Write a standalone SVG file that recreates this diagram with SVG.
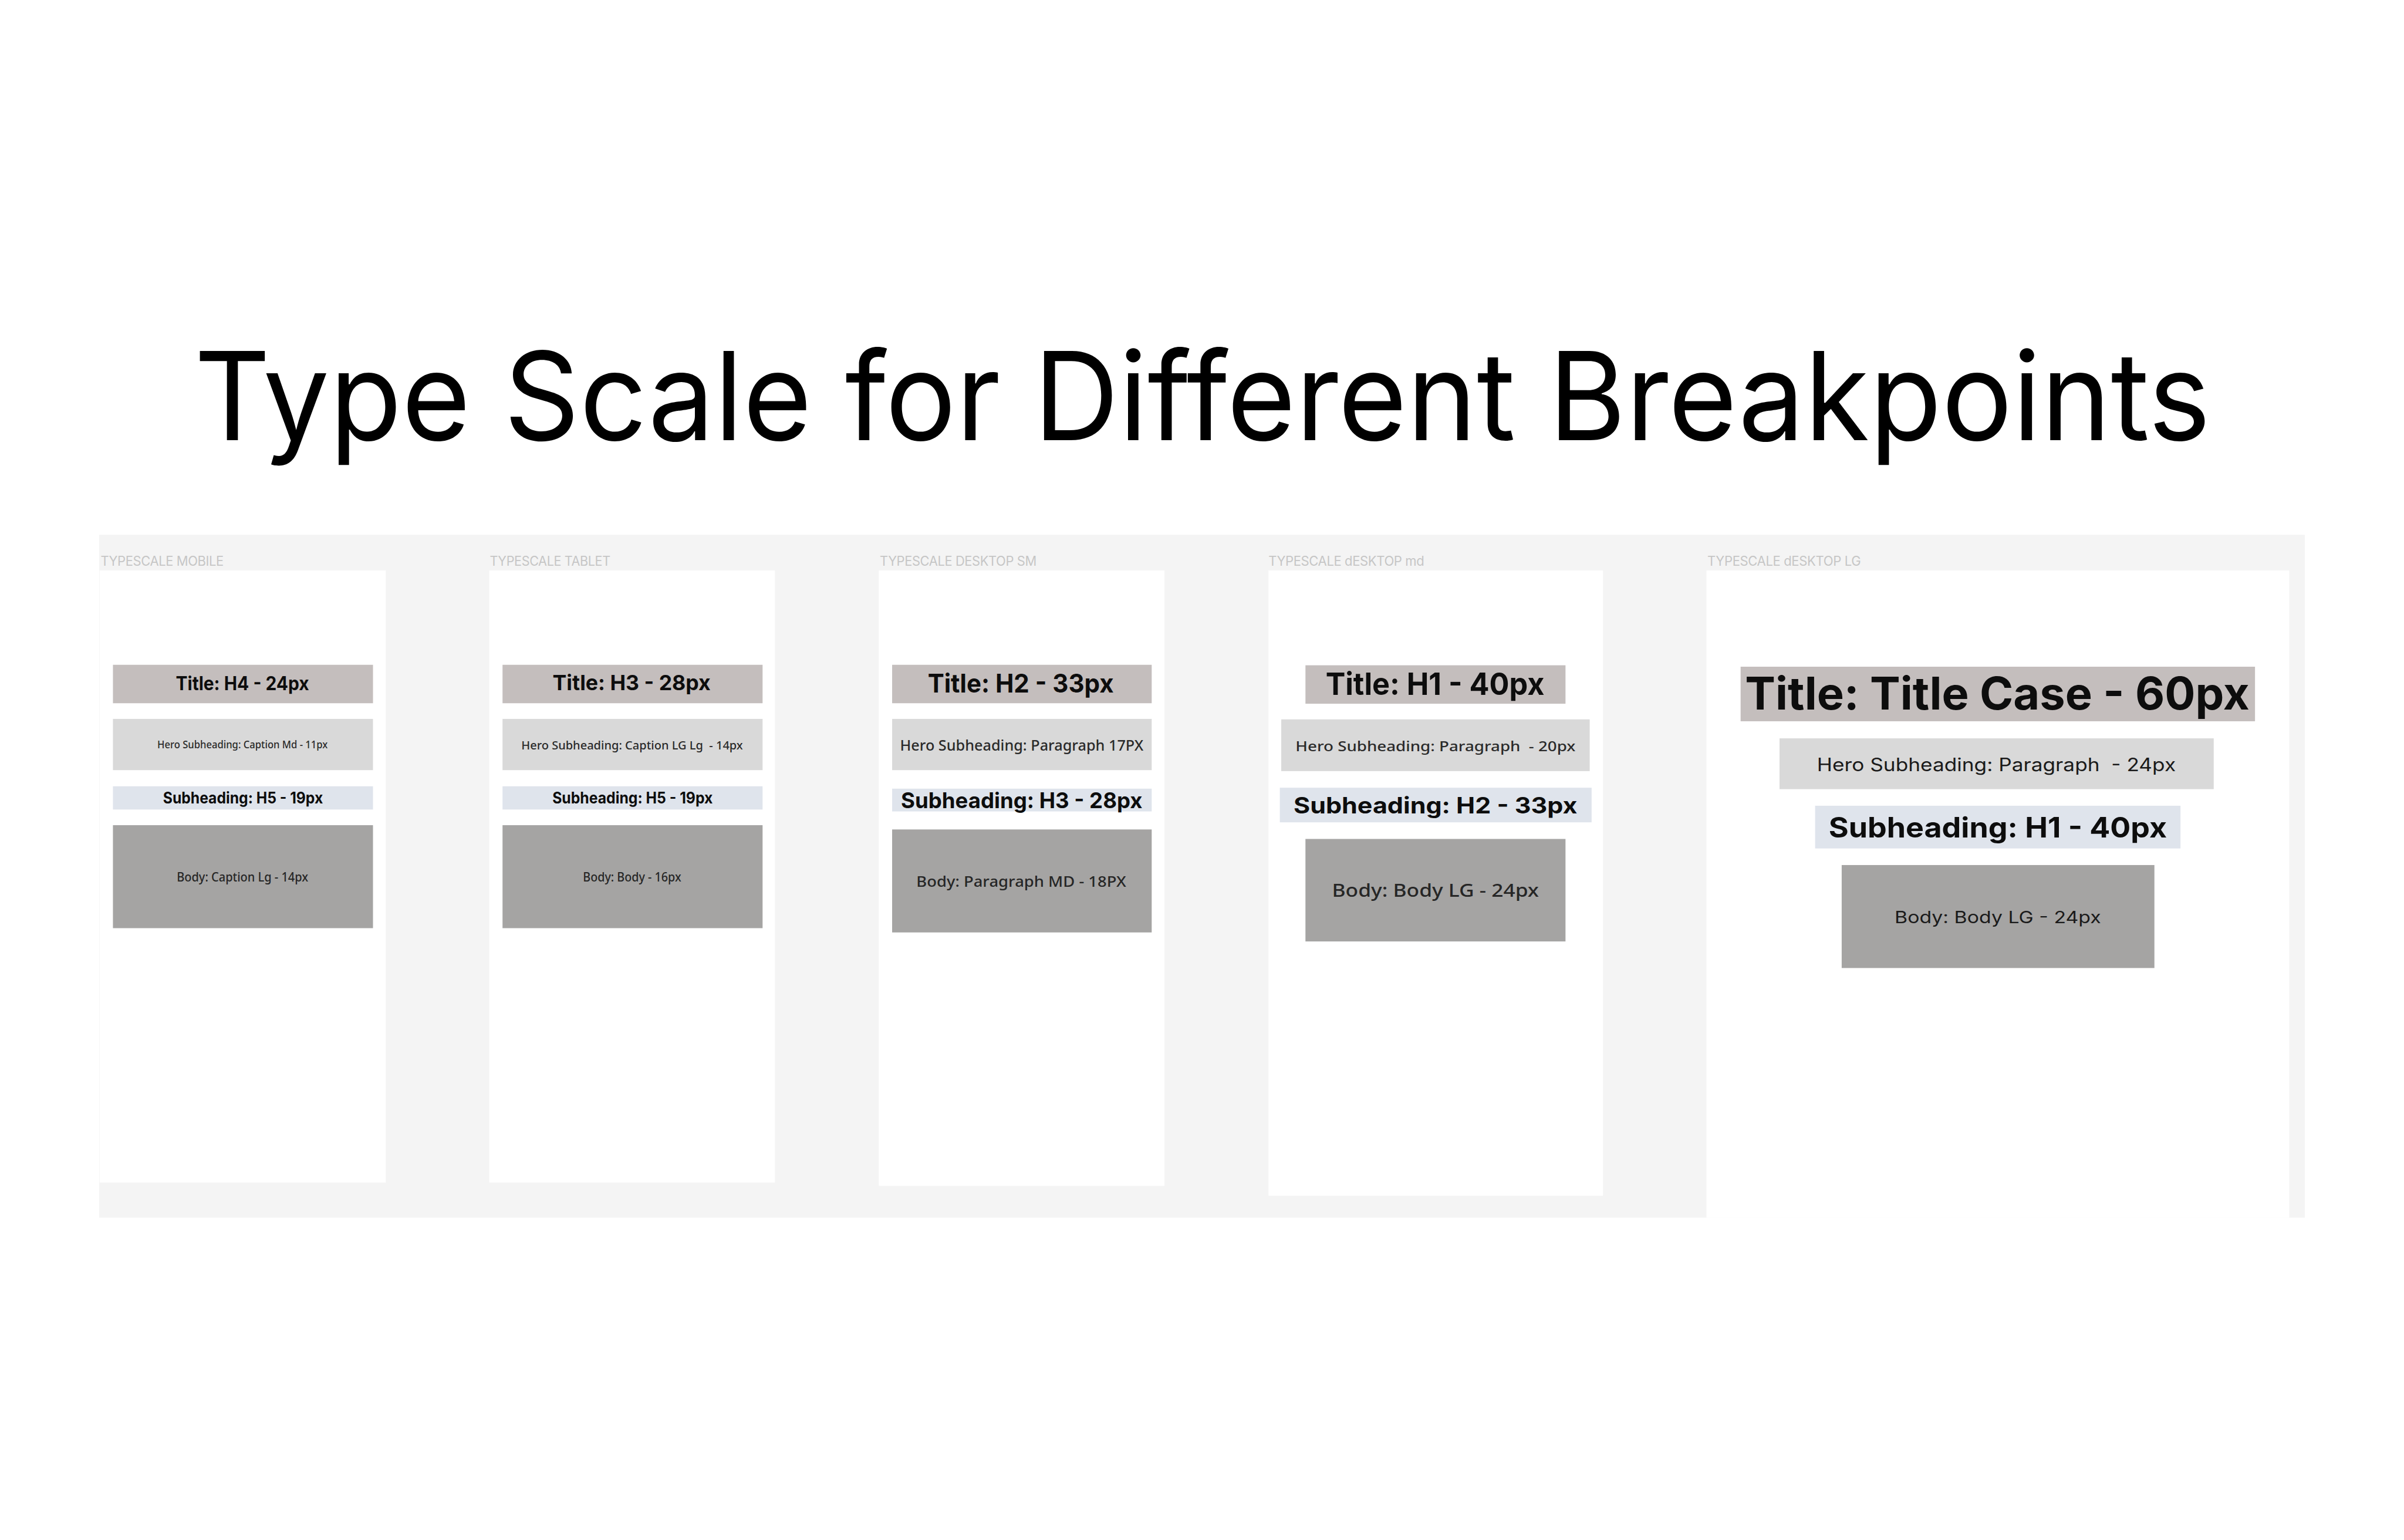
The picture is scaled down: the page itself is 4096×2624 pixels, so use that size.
<svg xmlns="http://www.w3.org/2000/svg" width="4096" height="2624" viewBox="0 0 4096 2624">
<style>
.bg{fill:#f4f4f4}
.panel{fill:#ffffff}
.lbl{font-family:Inter,"Liberation Sans",sans-serif;font-size:28px;fill:#c6c6c6;letter-spacing:-0.5px}
.tbox{fill:#c4bebd}
.hbox{fill:#d9d9d9}
.sbox{fill:#dfe4ec}
.bbox{fill:#a5a4a3}
.tt{font-family:Inter,"Liberation Sans",sans-serif;font-weight:700;fill:#0d0d0d;text-anchor:middle}
.ht{font-family:"Noto Sans","DejaVu Sans",sans-serif;font-weight:500;fill:#2a2a2a;text-anchor:middle}
.st{font-family:Inter,"Liberation Sans",sans-serif;font-weight:700;fill:#0d0d0d;text-anchor:middle}
.bt{font-family:"Noto Sans","DejaVu Sans",sans-serif;font-weight:500;fill:#262626;text-anchor:middle}
.it{font-family:Inter,"Liberation Sans",sans-serif;font-weight:400;fill:#1a1a1a;text-anchor:middle}
</style>
<rect width="4096" height="2624" fill="#ffffff"/>
<g transform="scale(0.80853)">
  <text id="title" x="2534" y="928" font-family="Inter, 'Liberation Sans', sans-serif" font-size="258" fill="#000" text-anchor="middle" textLength="4249" lengthAdjust="spacingAndGlyphs">Type Scale for Different Breakpoints</text>

  <g id="canvas">
    <rect class="bg" x="209" y="1127" width="4648" height="1439"/>
  </g>

  <g id="mobile">
    <rect class="panel" x="210" y="1202" width="603" height="1290"/>
    <text class="lbl" x="212" y="1192" textLength="259" lengthAdjust="spacingAndGlyphs">TYPESCALE MOBILE</text>
    <rect class="tbox" x="238" y="1401" width="548" height="81"/>
    <text class="tt" x="511" y="1454" font-size="40" textLength="281" lengthAdjust="spacingAndGlyphs">Title: H4 - 24px</text>
    <rect class="hbox" x="238" y="1515" width="548" height="108"/>
    <text class="ht" x="511" y="1577" font-size="22" textLength="359" lengthAdjust="spacingAndGlyphs">Hero Subheading: Caption Md - 11px</text>
    <rect class="sbox" x="238" y="1657" width="548" height="49"/>
    <text class="st" x="512" y="1693" font-size="33" textLength="337" lengthAdjust="spacingAndGlyphs">Subheading: H5 - 19px</text>
    <rect class="bbox" x="238" y="1739" width="548" height="217"/>
    <text class="bt" x="511" y="1858" font-size="26" textLength="277" lengthAdjust="spacingAndGlyphs">Body: Caption Lg - 14px</text>
  </g>

  <g id="tablet">
    <rect class="panel" x="1031" y="1202" width="602" height="1290"/>
    <text class="lbl" x="1032" y="1192" textLength="254" lengthAdjust="spacingAndGlyphs">TYPESCALE TABLET</text>
    <rect class="tbox" x="1059" y="1401" width="548" height="81"/>
    <text class="tt" x="1331" y="1455" font-size="44" textLength="333" lengthAdjust="spacingAndGlyphs">Title: H3 - 28px</text>
    <rect class="hbox" x="1059" y="1515" width="548" height="108"/>
    <text class="ht" x="1332" y="1579" font-size="24" textLength="467" lengthAdjust="spacingAndGlyphs" xml:space="preserve">Hero Subheading: Caption LG Lg  - 14px</text>
    <rect class="sbox" x="1059" y="1657" width="548" height="49"/>
    <text class="st" x="1333" y="1693" font-size="33" textLength="338" lengthAdjust="spacingAndGlyphs">Subheading: H5 - 19px</text>
    <rect class="bbox" x="1059" y="1739" width="548" height="217"/>
    <text class="bt" x="1332" y="1858" font-size="26" textLength="207" lengthAdjust="spacingAndGlyphs">Body: Body - 16px</text>
  </g>

  <g id="desktop-sm">
    <rect class="panel" x="1852" y="1202" width="602" height="1297"/>
    <text class="lbl" x="1854" y="1192" textLength="330" lengthAdjust="spacingAndGlyphs">TYPESCALE DESKTOP SM</text>
    <rect class="tbox" x="1880" y="1401" width="547" height="81"/>
    <text class="tt" x="2151" y="1460" font-size="55" textLength="392" lengthAdjust="spacingAndGlyphs">Title: H2 - 33px</text>
    <rect class="hbox" x="1880" y="1515" width="547" height="108"/>
    <text class="ht" x="2153" y="1582" font-size="32" textLength="513" lengthAdjust="spacingAndGlyphs">Hero Subheading: Paragraph 17PX</text>
    <rect class="sbox" x="1880" y="1662" width="547" height="48"/>
    <text class="st" x="2153" y="1703" font-size="46" textLength="509" lengthAdjust="spacingAndGlyphs">Subheading: H3 - 28px</text>
    <rect class="bbox" x="1880" y="1748" width="547" height="217"/>
    <text class="bt" x="2152" y="1869" font-size="32" textLength="442" lengthAdjust="spacingAndGlyphs">Body: Paragraph MD - 18PX</text>
  </g>

  <g id="desktop-md">
    <rect class="panel" x="2673" y="1202" width="705" height="1318"/>
    <text class="lbl" x="2673" y="1192" textLength="328" lengthAdjust="spacingAndGlyphs">TYPESCALE dESKTOP md</text>
    <rect class="tbox" x="2751" y="1402" width="548" height="81"/>
    <text class="tt" x="3024" y="1464" font-size="65" textLength="461" lengthAdjust="spacingAndGlyphs">Title: H1 - 40px</text>
    <rect class="hbox" x="2700" y="1516" width="650" height="109"/>
    <text class="ht" x="3025" y="1583" font-size="30" textLength="590" lengthAdjust="spacingAndGlyphs" xml:space="preserve">Hero Subheading: Paragraph  - 20px</text>
    <rect class="sbox" x="2697" y="1660" width="657" height="73"/>
    <text class="st" x="3025" y="1714" font-size="47" textLength="598" lengthAdjust="spacingAndGlyphs">Subheading: H2 - 33px</text>
    <rect class="bbox" x="2751" y="1768" width="548" height="216"/>
    <text class="bt" x="3025" y="1890" font-size="37" textLength="436" lengthAdjust="spacingAndGlyphs">Body: Body LG - 24px</text>
  </g>

  <g id="desktop-lg">
    <rect class="panel" x="3596" y="1202" width="1228" height="1364"/>
    <text class="lbl" x="3598" y="1192" textLength="323" lengthAdjust="spacingAndGlyphs">TYPESCALE dESKTOP LG</text>
    <rect class="tbox" x="3668" y="1405" width="1084" height="115"/>
    <text class="tt" x="4209" y="1495" font-size="95" textLength="1063" lengthAdjust="spacingAndGlyphs">Title: Title Case - 60px</text>
    <rect class="hbox" x="3750" y="1556" width="915" height="107"/>
    <text class="it" x="4207" y="1625" font-size="38" textLength="756" lengthAdjust="spacingAndGlyphs" xml:space="preserve">Hero Subheading: Paragraph  - 24px</text>
    <rect class="sbox" x="3825" y="1698" width="770" height="90"/>
    <text class="st" x="4210" y="1765" font-size="59" textLength="713" lengthAdjust="spacingAndGlyphs">Subheading: H1 - 40px</text>
    <rect class="bbox" x="3881" y="1823" width="659" height="217"/>
    <text class="it" x="4210" y="1946" font-size="36" textLength="435" lengthAdjust="spacingAndGlyphs">Body: Body LG - 24px</text>
  </g>

  <g id="connectors"/>
</g>
</svg>
